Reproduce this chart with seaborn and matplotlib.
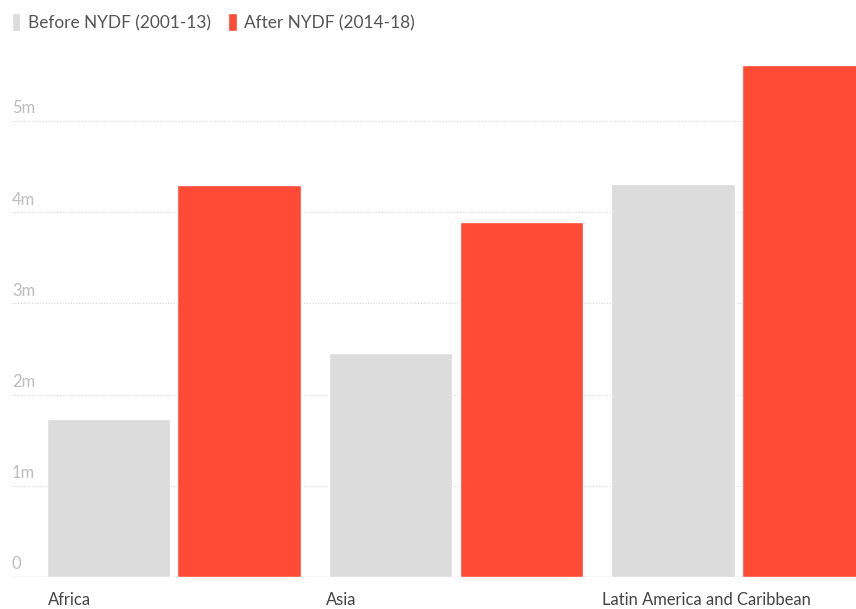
import matplotlib
matplotlib.use("Agg")
import matplotlib.pyplot as plt
import matplotlib.transforms as mtransforms
import pandas as pd
import seaborn as sns

regions = ["Africa", "Asia", "Latin America and Caribbean"]
before = [1.73, 2.46, 4.31]
after = [4.30, 3.89, 5.61]
series = ["Before NYDF (2001-13)", "After NYDF (2014-18)"]
yticks = [0, 1, 2, 3, 4, 5]
ytick_labels = ["0", "1m", "2m", "3m", "4m", "5m"]

df = pd.DataFrame({
    "region": regions * 2,
    "value": before + after,
    "period": [series[0]] * 3 + [series[1]] * 3,
})

sns.set_style("white")
plt.rcParams["font.family"] = ["Lato", "DejaVu Sans"]

W, H = 856, 609
fig = plt.figure(figsize=(W / 100, H / 100), dpi=100)
ymax = 5.75
px_per_m = 91.2
ax = fig.add_axes([12 / W, 32 / H, 844 / W, ymax * px_per_m / H])

width = 0.9255
sns.barplot(data=df, x="region", y="value", hue="period", hue_order=series,
            palette=["#dcdcdc", "#ff4b36"], width=width, gap=0.054,
            saturation=1, ax=ax)

ax.set_xlim(-0.574, 2.418)
ax.set_ylim(0, ymax)
ax.set_xlabel("")
ax.set_ylabel("")
for s in ax.spines.values():
    s.set_visible(False)

ax.set_yticks(yticks)
ax.set_yticklabels([])
ax.tick_params(axis="both", length=0)
ax.set_xticks([])
for y in yticks[1:]:
    ax.axhline(y, color="#d4d4d4", lw=0.8, ls=(0, (1, 1.5)), zorder=0)
ax.axhline(0, color="#d8d8d8", lw=1.0, zorder=0)

trans = mtransforms.blended_transform_factory(ax.transAxes, ax.transData)
for y, lab in zip(yticks, ytick_labels):
    ax.text(0.0, y + 0.05, lab, transform=trans, ha="left", va="bottom",
            fontsize=12, color="#bdbdbd")

xtrans = mtransforms.blended_transform_factory(ax.transData, ax.transAxes)
label_shift = [0.017, 0.0, -0.018]
for i, r in enumerate(regions):
    ax.text(i - width / 2 + label_shift[i], -0.028, r, transform=xtrans,
            ha="left", va="top", fontsize=11.9, color="#444444")

handles, labels = ax.get_legend_handles_labels()
ax.legend(handles, labels, ncol=2, loc="upper left", bbox_to_anchor=(-4 / W, 1 + 2 / H),
          bbox_transform=fig.transFigure, frameon=False, handlelength=0.5,
          handleheight=1.2, handletextpad=0.45, columnspacing=1.0,
          prop={"size": 12.4}, labelcolor="#555555")

fig.savefig("out.png", dpi=100)
